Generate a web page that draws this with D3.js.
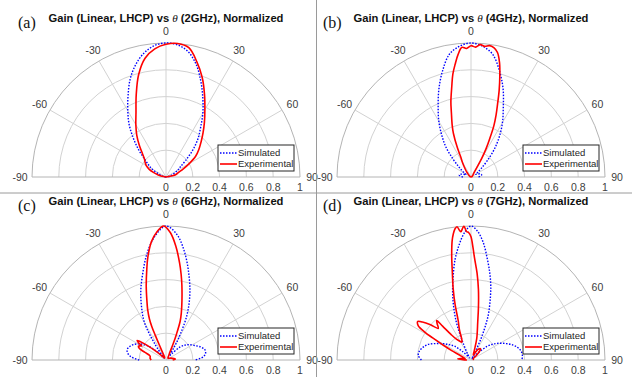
<!DOCTYPE html>
<html>
<head>
<meta charset="utf-8">
<script src="https://cdn.jsdelivr.net/npm/d3@7"></script>
<style>
  body { margin: 0; background: #fff; }
  svg { display: block; font-family: "Liberation Sans", Arial, sans-serif; }
</style>
</head>
<body>
<div id="chart"></div>
<script>
// [theta in degrees, normalized gain]
const sim2GHz = [[-90,0],[-80,0.02],[-70,0.05],[-60,0.12],[-55,0.16],[-50,0.21],[-45,0.29],[-40,0.38],[-35,0.48],[-30,0.57],[-25,0.67],[-20,0.78],[-15,0.87],[-10,0.94],[-5,0.985],[0,1],[5,0.99],[10,0.95],[15,0.87],[20,0.76],[25,0.65],[30,0.55],[35,0.45],[40,0.37],[45,0.28],[50,0.19],[55,0.13],[60,0.1],[70,0.05],[80,0.02],[90,0]];
const exp2GHz = [[-90,0],[-80,0.03],[-75,0.06],[-70,0.1],[-65,0.14],[-60,0.17],[-55,0.19],[-50,0.21],[-45,0.25],[-40,0.31],[-35,0.38],[-30,0.45],[-25,0.53],[-20,0.65],[-15,0.79],[-10,0.9],[-5,0.96],[0,0.99],[5,1],[10,0.98],[15,0.89],[20,0.79],[25,0.68],[30,0.58],[35,0.5],[40,0.43],[45,0.37],[50,0.32],[55,0.27],[60,0.2],[65,0.14],[70,0.1],[75,0.08],[80,0.05],[90,0]];

const sim4GHz = [[-90,0.06],[-85,0.08],[-80,0.09],[-75,0.08],[-70,0.06],[-65,0.04],[-60,0.05],[-55,0.08],[-50,0.12],[-45,0.19],[-40,0.29],[-35,0.38],[-30,0.48],[-25,0.58],[-20,0.7],[-15,0.82],[-10,0.93],[-5,0.98],[0,1],[5,0.98],[10,0.93],[15,0.82],[20,0.7],[25,0.57],[30,0.47],[35,0.37],[40,0.27],[45,0.17],[50,0.1],[55,0.06],[60,0.04],[65,0.05],[70,0.07],[75,0.08],[80,0.08],[85,0.07],[90,0.05]];
const exp4GHz = [[-90,0],[-60,0.01],[-45,0.03],[-40,0.05],[-35,0.08],[-30,0.13],[-27,0.17],[-25,0.24],[-22,0.35],[-20,0.41],[-17,0.5],[-15,0.58],[-12,0.69],[-10,0.78],[-8,0.85],[-6,0.92],[-4,0.97],[-2,0.96],[0,0.98],[2,0.97],[4,0.99],[6,0.98],[8,0.99],[10,0.98],[12,0.95],[14,0.88],[16,0.78],[18,0.68],[20,0.58],[22,0.5],[24,0.42],[26,0.32],[28,0.24],[30,0.16],[32,0.08],[35,0.04],[45,0.02],[60,0.01],[90,0]];

const sim6GHz = [[-90,0.2],[-85,0.26],[-80,0.29],[-75,0.3],[-70,0.29],[-65,0.27],[-60,0.24],[-55,0.2],[-50,0.14],[-45,0.06],[-42,0.02],[-38,0.05],[-35,0.14],[-30,0.32],[-25,0.43],[-20,0.55],[-15,0.67],[-10,0.81],[-5,0.93],[0,1],[5,0.94],[10,0.81],[15,0.66],[20,0.52],[25,0.37],[30,0.19],[33,0.1],[37,0.04],[42,0.06],[47,0.14],[52,0.18],[57,0.21],[65,0.25],[70,0.28],[75,0.3],[80,0.3],[85,0.28],[90,0.22]];
const exp6GHz = [[-90,0.11],[-87,0.115],[-83,0.12],[-78,0.12],[-74,0.13],[-70,0.17],[-66,0.22],[-63,0.23],[-60,0.21],[-58,0.24],[-56,0.26],[-53,0.2],[-50,0.12],[-45,0.05],[-40,0.02],[-30,0.02],[-25,0.04],[-24,0.12],[-23.5,0.2],[-23,0.27],[-22,0.33],[-20,0.4],[-18,0.46],[-15,0.57],[-12,0.69],[-10,0.78],[-7,0.89],[-4,0.96],[-1,1],[2,0.95],[5,0.85],[8,0.73],[10,0.65],[12,0.57],[15,0.46],[18,0.37],[20,0.31],[22,0.21],[24,0.13],[27,0.06],[35,0.03],[50,0.02],[70,0.04],[80,0.06],[85,0.07],[90,0.05]];

const sim7GHz = [[-90,0.37],[-85,0.395],[-80,0.39],[-75,0.37],[-70,0.34],[-65,0.29],[-60,0.245],[-55,0.2],[-50,0.16],[-45,0.09],[-40,0.03],[-35,0.02],[-30,0.05],[-25,0.14],[-23,0.22],[-21,0.31],[-18,0.42],[-15,0.53],[-12,0.64],[-9,0.76],[-6,0.86],[-3,0.95],[0,1],[3,0.96],[6,0.88],[9,0.77],[12,0.67],[15,0.57],[18,0.46],[21,0.36],[23,0.27],[25,0.18],[27,0.08],[30,0.03],[35,0.01],[40,0.03],[45,0.08],[50,0.16],[55,0.21],[60,0.25],[65,0.29],[70,0.33],[75,0.36],[80,0.38],[85,0.385],[90,0.38]];
const exp7GHz = [[-90,0.03],[-88,0.06],[-85,0.1],[-82,0.08],[-77,0.045],[-70,0.07],[-67,0.09],[-64,0.16],[-62,0.23],[-60,0.33],[-59,0.4],[-57,0.47],[-54,0.49],[-52,0.46],[-49,0.4],[-46,0.34],[-43,0.37],[-41,0.39],[-40,0.33],[-38,0.24],[-35,0.19],[-30,0.16],[-27,0.15],[-24,0.17],[-21,0.24],[-18,0.31],[-16,0.43],[-14,0.55],[-12,0.67],[-10.5,0.79],[-9,0.9],[-8,0.95],[-7,0.985],[-6,1],[-5,0.97],[-4.5,0.96],[-3.5,0.99],[-3,1],[-2,0.96],[-1,0.95],[0,0.92],[1,0.84],[2,0.76],[4,0.65],[6,0.53],[8,0.4],[10,0.29],[15,0.165],[19,0.076],[25,0.04],[30,0.07],[35,0.1],[40,0.11],[45,0.09],[50,0.05],[60,0.02],[90,0.02]];

const angleTicks = [-90, -60, -30, 0, 30, 60, 90];
const radiusTicks = [0, 0.2, 0.4, 0.6, 0.8, 1];
const legendLabels = ['Simulated', 'Experimental'];

const panels = [
    {label: '(a)', freq: '2GHz', cx: 166, cy: 177, sim: sim2GHz, exp: exp2GHz},
    {label: '(b)', freq: '4GHz', cx: 471, cy: 177, sim: sim4GHz, exp: exp4GHz},
    {label: '(c)', freq: '6GHz', cx: 166, cy: 360, sim: sim6GHz, exp: exp6GHz},
    {label: '(d)', freq: '7GHz', cx: 471, cy: 360, sim: sim7GHz, exp: exp7GHz}
];

const R = 134;
const svg = d3.select('#chart').append('svg')
    .attr('width', 632)
    .attr('height', 377);

const rScale = d3.scaleLinear().domain([0, 1]).range([0, R]);
const aScale = d3.scaleLinear().domain([-90, 90]).range([-Math.PI / 2, Math.PI / 2]);

const line = d3.lineRadial()
    .angle(d => aScale(d[0]))
    .radius(d => rScale(d[1]))
    .curve(d3.curveCatmullRom.alpha(0.5));

function halfCircle(r) {
    const p = d3.path();
    p.arc(0, 0, r, -Math.PI, 0);
    return p.toString();
}

panels.forEach(p => {
    const g = svg.append('g').attr('transform', `translate(${p.cx},${p.cy})`);

    // rings
    g.selectAll('.ring')
        .data(radiusTicks.filter(v => v > 0))
        .join('path')
        .attr('d', v => halfCircle(rScale(v)))
        .attr('fill', 'none')
        .attr('stroke', v => v === 1 ? '#b4b4b4' : '#d2d2d2')
        .attr('stroke-width', 1);

    // spokes
    g.selectAll('.spoke')
        .data(angleTicks)
        .join('line')
        .attr('x1', 0).attr('y1', 0)
        .attr('x2', d => R * Math.sin(aScale(d)))
        .attr('y2', d => -R * Math.cos(aScale(d)))
        .attr('stroke', d => Math.abs(d) === 90 ? '#b4b4b4' : '#d2d2d2')
        .attr('stroke-width', 1);

    // angle labels
    g.selectAll('.alabel')
        .data(angleTicks)
        .join('text')
        .attr('x', d => (R + 12) * Math.sin(aScale(d)))
        .attr('y', d => -(R + 12) * Math.cos(aScale(d)))
        .attr('dy', '0.35em')
        .attr('text-anchor', 'middle')
        .style('font-size', '10.5px')
        .style('fill', '#404040')
        .text(d => d);

    // radius labels
    g.selectAll('.rlabel')
        .data(radiusTicks)
        .join('text')
        .attr('x', d => rScale(d))
        .attr('y', 14)
        .attr('text-anchor', 'middle')
        .style('font-size', '10.5px')
        .style('fill', '#404040')
        .text(d => d);

    // curves
    g.append('path')
        .attr('d', line(p.sim))
        .attr('fill', 'none')
        .attr('stroke', '#0000ff')
        .attr('stroke-width', 1.4)
        .attr('stroke-dasharray', '1.5,1.5');
    g.append('path')
        .attr('d', line(p.exp))
        .attr('fill', 'none')
        .attr('stroke', '#ff0000')
        .attr('stroke-width', 1.6);

    // title
    const title = g.append('text')
        .attr('x', 0)
        .attr('y', -155)
        .attr('text-anchor', 'middle')
        .style('font-size', '11.2px')
        .style('font-weight', 'bold')
        .style('fill', '#111');
    title.append('tspan').text('Gain (Linear, LHCP) vs ');
    title.append('tspan')
        .style('font-family', '"Liberation Serif", "Times New Roman", serif')
        .style('font-style', 'italic')
        .style('font-weight', 'normal')
        .text('θ');
    title.append('tspan').text(` (${p.freq}), Normalized`);

    // panel label
    g.append('text')
        .attr('x', -148)
        .attr('y', -149)
        .style('font-family', '"Liberation Serif", "Times New Roman", serif')
        .style('font-size', '16px')
        .style('fill', '#111')
        .text(p.label);

    // legend
    const lg = g.append('g').attr('transform', 'translate(52,-32)');
    lg.append('rect')
        .attr('width', 76).attr('height', 26)
        .attr('fill', '#fff')
        .attr('stroke', '#262626')
        .attr('stroke-width', 1);
    legendLabels.forEach((name, i) => {
        const y = 8 + i * 11;
        lg.append('line')
            .attr('x1', 2).attr('x2', 19).attr('y1', y).attr('y2', y)
            .attr('stroke', i === 0 ? '#0000ff' : '#ff0000')
            .attr('stroke-width', i === 0 ? 1.4 : 1.6)
            .attr('stroke-dasharray', i === 0 ? '1.5,1.5' : null);
        lg.append('text')
            .attr('x', 20).attr('y', y)
            .attr('dy', '0.35em')
            .style('font-size', '9.5px')
            .style('fill', '#262626')
            .text(name);
    });
});

// separators between the four panels, drawn on top
svg.append('line').attr('x1', 316.5).attr('x2', 316.5).attr('y1', 0).attr('y2', 377)
    .attr('stroke', '#9a9a9a').attr('stroke-width', 1);
svg.append('line').attr('x1', 0).attr('x2', 632).attr('y1', 193).attr('y2', 193)
    .attr('stroke', '#9a9a9a').attr('stroke-width', 1);
</script>
</body>
</html>
